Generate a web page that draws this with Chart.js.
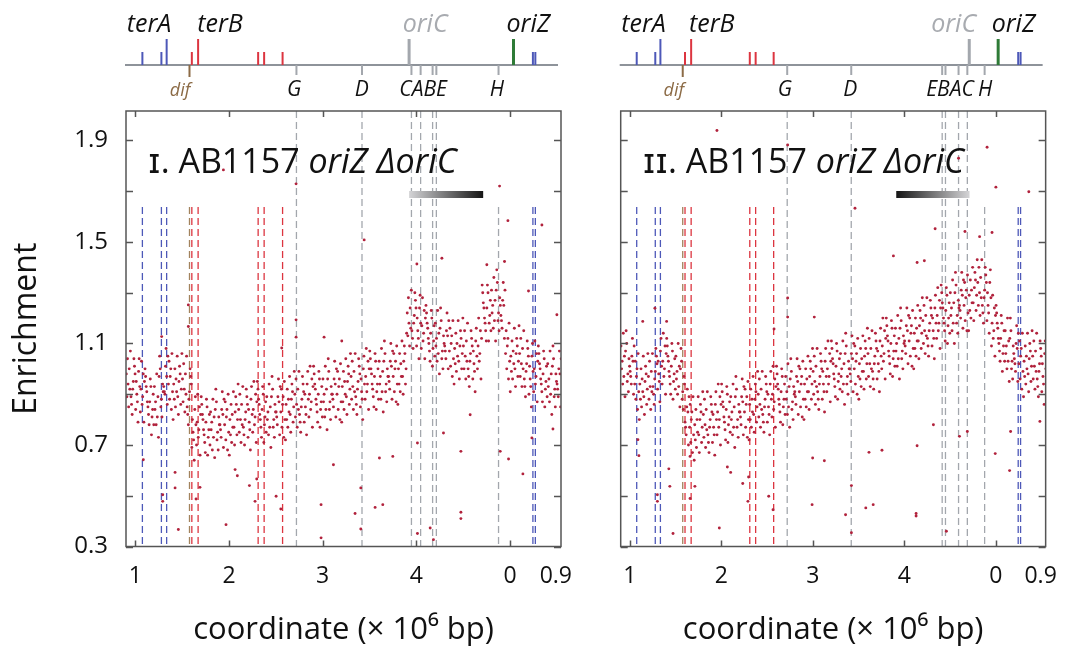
<!DOCTYPE html>
<html>
<head>
<meta charset="utf-8">
<script src="https://cdn.jsdelivr.net/npm/chart.js@4.4.1/dist/chart.umd.min.js"></script>
<style>
  html, body { margin: 0; padding: 0; background: #fff; }
  #wrap { position: relative; width: 1073px; height: 657px; }
  canvas { position: absolute; left: 0; top: 0; }
</style>
</head>
<body>
<div id="wrap">
  <canvas id="panelA" width="1073" height="657"></canvas>
  <canvas id="panelB" width="1073" height="657"></canvas>
</div>
<script>
// ---- axes ----
const xTickVals = [1, 2, 3, 4, 5, 5.49];
const xTickLabels = ['1', '2', '3', '4', '0', '0.9'];
const xTickMarks = [1, 2, 3, 4, 5];
const yTickVals = [0.3, 0.5, 0.7, 0.9, 1.1, 1.3, 1.5, 1.7, 1.9];

// ---- enrichment, 8 windows per 0.05 Mb bin ----
const binWidth = 0.05;
const binStarts = [0.90,0.95,1.00,1.05,1.10,1.15,1.20,1.25,1.30,1.35,1.40,1.45,1.50,1.55,1.60,1.65,1.70,1.75,1.80,1.85,
  1.90,1.95,2.00,2.05,2.10,2.15,2.20,2.25,2.30,2.35,2.40,2.45,2.50,2.55,2.60,2.65,2.70,2.75,2.80,2.85,
  2.90,2.95,3.00,3.05,3.10,3.15,3.20,3.25,3.30,3.35,3.40,3.45,3.50,3.55,3.60,3.65,3.70,3.75,3.80,3.85,
  3.90,3.95,4.00,4.05,4.10,4.15,4.20,4.25,4.30,4.35,4.40,4.45,4.50,4.55,4.60,4.65,4.70,4.75,4.80,4.85,
  4.90,4.95,5.00,5.05,5.10,5.15,5.20,5.25,5.30,5.35,5.40,5.45,5.50];
// order in which the 8 windows sit inside a bin (rows cycle through these)
const windowOrder = [[0,1,2,3,4,5,6,7],[3,6,1,4,7,2,5,0],[5,2,7,0,6,3,1,4]];

const enrichA = [
  [.98,.89,1.04,.94,.85,1.00,.92,1.07],[.92,1.01,.86,.95,.98,.82,1.04,.89],[.99,.90,.93,.84,1.04,.87,.95,.79],
  [.83,.92,1.03,.86,.89,.98,.79,.95],[.91,.82,.97,.87,.78,.93,.85,1.00],[.84,.93,.78,.87,.90,.74,.96,.81],
  [.93,.84,.87,.78,.98,.81,.89,.73],[.85,.94,1.05,.88,.91,1.00,.81,.97],[.97,.90,1.05,.93,.86,1.01,.91,1.08],
  [.94,1.03,.88,.97,1.00,.84,1.06,.91],[1.00,.91,.94,.85,1.05,.88,.96,.80],[.86,.95,1.06,.89,.92,1.01,.82,.98],
  [.96,.87,1.02,.92,.83,.98,.90,1.05],[.88,.97,.82,.91,.94,.78,1.00,.85],[.84,.75,.78,.69,.89,.72,.80,.64],
  [.70,.79,.90,.73,.76,.85,.66,.82],[.80,.71,.86,.76,.67,.82,.74,.89],[.76,.85,.70,.79,.82,.66,.88,.73],
  [.83,.76,.79,.68,.88,.73,.81,.65],[.72,.81,.92,.75,.78,.87,.68,.84],[.82,.73,.88,.78,.69,.84,.76,.91],
  [.78,.87,.72,.81,.84,.68,.90,.75],[.86,.77,.80,.71,.91,.74,.82,.66],[.74,.83,.94,.77,.80,.89,.70,.86],
  [.84,.75,.90,.80,.71,.86,.78,.93],[.80,.89,.74,.83,.86,.70,.92,.77],[.88,.79,.82,.73,.93,.76,.84,.68],
  [.75,.84,.95,.78,.81,.90,.71,.87],[.86,.77,.92,.82,.73,.88,.80,.95],[.81,.90,.75,.84,.87,.71,.93,.78],
  [.89,.80,.83,.74,.94,.77,.85,.69],[.77,.86,.97,.80,.83,.92,.73,.89],[.87,.78,.93,.83,.74,.89,.81,.96],
  [.83,.92,.77,.86,.89,.73,.95,.80],[.92,.83,.86,.77,.97,.80,.88,.72],[.79,.88,.99,.82,.85,.94,.75,.91],
  [.90,.81,.96,.86,.77,.92,.84,.99],[.85,.94,.79,.88,.91,.75,.97,.82],[.94,.85,.88,.79,.99,.82,.90,.74],
  [.81,.90,1.01,.84,.87,.96,.77,.93],[.92,.83,.98,.88,.79,.94,.86,1.01],[.87,.96,.81,.90,.93,.77,.99,.84],
  [.96,.87,.90,.81,1.01,.84,.92,.76],[.84,.93,1.04,.87,.90,.99,.80,.96],[.94,.85,1.00,.90,.81,.96,.88,1.03],
  [.90,.99,.84,.93,.96,.80,1.02,.87],[.99,.90,.93,.84,1.04,.87,.95,.79],[.86,.95,1.06,.89,.92,1.01,.82,.98],
  [.97,.88,1.03,.93,.84,.99,.91,1.06],[.92,1.01,.86,.95,.98,.82,1.04,.89],[1.00,.91,.94,.85,1.05,.88,.96,.80],
  [.88,.97,1.08,.91,.94,1.03,.84,1.00],[.98,.89,1.04,.94,.85,1.00,.92,1.07],[.94,1.03,.88,.97,1.00,.84,1.06,.91],
  [1.03,.94,.97,.88,1.08,.91,.99,.83],[.91,1.00,1.11,.94,.97,1.06,.87,1.03],[1.01,.92,1.07,.97,.88,1.03,.95,1.10],
  [.97,1.06,.91,1.00,1.03,.87,1.09,.94],[1.06,.97,1.00,.91,1.11,.94,1.02,.86],[.94,1.03,1.14,.97,1.00,1.09,.90,1.06],
  [1.22,1.13,1.28,1.18,1.09,1.24,1.16,1.31],[1.18,1.27,1.12,1.21,1.24,1.08,1.30,1.15],[1.24,1.15,1.18,1.09,1.29,1.12,1.20,1.04],
  [1.08,1.17,1.28,1.11,1.14,1.23,1.04,1.20],[1.16,1.07,1.22,1.12,1.03,1.18,1.10,1.25],[1.11,1.20,1.05,1.14,1.17,1.01,1.23,1.08],
  [1.18,1.09,1.12,1.03,1.23,1.06,1.14,.98],[1.04,1.13,1.24,1.07,1.10,1.19,1.00,1.16],[1.13,1.04,1.19,1.09,1.00,1.15,1.07,1.22],
  [1.07,1.16,1.01,1.10,1.13,.97,1.19,1.04],[1.14,1.05,1.08,.99,1.19,1.02,1.10,.94],[1.00,1.09,1.20,1.03,1.06,1.15,.96,1.12],
  [1.09,1.00,1.15,1.05,.96,1.11,1.03,1.18],[1.03,1.12,.97,1.06,1.09,.93,1.15,1.00],[1.11,1.02,1.05,.96,1.16,.99,1.07,.91],
  [1.00,1.09,1.20,1.03,1.06,1.15,.96,1.12],[1.24,1.15,1.30,1.20,1.11,1.26,1.18,1.33],[1.21,1.30,1.15,1.24,1.27,1.11,1.33,1.18],
  [1.31,1.22,1.25,1.16,1.36,1.19,1.27,1.11],[1.19,1.28,1.39,1.22,1.25,1.34,1.15,1.31],[1.25,1.16,1.31,1.21,1.12,1.27,1.19,1.34],
  [1.06,1.15,1.00,1.09,1.12,.96,1.18,1.03],[1.11,1.02,1.05,.96,1.16,.99,1.07,.91],[.97,1.06,1.17,1.00,1.03,1.12,.93,1.09],
  [1.06,.97,1.12,1.02,.93,1.08,1.00,1.15],[.99,1.08,.93,1.02,1.05,.89,1.11,.96],[1.05,.96,.99,.90,1.10,.93,1.01,.85],
  [.91,1.00,1.11,.94,.97,1.06,.87,1.03],[1.00,.91,1.06,.96,.87,1.02,.94,1.09],[.95,1.04,.89,.98,1.01,.85,1.07,.92],
  [1.02,.93,.96,.87,1.07,.90,.98,.82],[.89,.98,1.09,.92,.95,1.04,.85,1.01],[.98,.89,1.04,.94,.85,1.00,.92,1.07]
];

const enrichB = [
  [1.09,1.00,1.03,.94,1.14,.97,1.05,.89],[.95,1.04,1.15,.98,1.01,1.10,.91,1.07],[1.03,.94,1.09,.99,.90,1.05,.97,1.12],
  [.94,1.03,.88,.97,1.00,.84,1.06,.91],[1.00,.91,.94,.85,1.05,.88,.96,.80],[.86,.95,1.06,.89,.92,1.01,.82,.98],
  [.97,.88,1.03,.93,.84,.99,.91,1.06],[.96,1.05,.90,.99,1.02,.86,1.08,.93],[1.07,.98,1.01,.92,1.12,.95,1.03,.87],
  [.94,1.03,1.14,.97,1.00,1.09,.90,1.06],[1.03,.94,1.09,.99,.90,1.05,.97,1.12],[.98,1.07,.92,1.01,1.04,.88,1.10,.95],
  [1.05,.96,.99,.90,1.10,.93,1.01,.85],[.88,.97,1.08,.91,.94,1.03,.84,1.00],[.83,.74,.89,.79,.70,.85,.77,.92],
  [.77,.86,.71,.80,.83,.67,.89,.74],[.84,.75,.78,.69,.89,.72,.80,.64],[.71,.80,.91,.74,.77,.86,.67,.83],
  [.82,.73,.88,.78,.69,.84,.76,.91],[.77,.86,.71,.80,.83,.67,.89,.74],[.86,.77,.80,.71,.91,.74,.82,.66],
  [.74,.83,.94,.77,.80,.89,.70,.86],[.85,.76,.91,.81,.72,.87,.79,.94],[.81,.90,.75,.84,.87,.71,.93,.78],
  [.89,.80,.83,.74,.94,.77,.85,.69],[.77,.86,.97,.80,.83,.92,.73,.89],[.87,.78,.93,.83,.74,.89,.81,.96],
  [.83,.92,.77,.86,.89,.73,.95,.80],[.92,.83,.86,.77,.97,.80,.88,.72],[.79,.88,.99,.82,.85,.94,.75,.91],
  [.90,.81,.96,.86,.77,.92,.84,.99],[.85,.94,.79,.88,.91,.75,.97,.82],[.94,.85,.88,.79,.99,.82,.90,.74],
  [.81,.90,1.01,.84,.87,.96,.77,.93],[.92,.83,.98,.88,.79,.94,.86,1.01],[.88,.97,.82,.91,.94,.78,1.00,.85],
  [.97,.88,.91,.82,1.02,.85,.93,.77],[.84,.93,1.04,.87,.90,.99,.80,.96],[.95,.86,1.01,.91,.82,.97,.89,1.04],
  [.91,1.00,.85,.94,.97,.81,1.03,.88],[1.00,.91,.94,.85,1.05,.88,.96,.80],[.88,.97,1.08,.91,.94,1.03,.84,1.00],
  [.99,.90,1.05,.95,.86,1.01,.93,1.08],[.94,1.03,.88,.97,1.00,.84,1.06,.91],[1.03,.94,.97,.88,1.08,.91,.99,.83],
  [.91,1.00,1.11,.94,.97,1.06,.87,1.03],[1.02,.93,1.08,.98,.89,1.04,.96,1.11],[.98,1.07,.92,1.01,1.04,.88,1.10,.95],
  [1.06,.97,1.00,.91,1.11,.94,1.02,.86],[.94,1.03,1.14,.97,1.00,1.09,.90,1.06],[1.04,.95,1.10,1.00,.91,1.06,.98,1.13],
  [1.00,1.09,.94,1.03,1.06,.90,1.12,.97],[1.08,.99,1.02,.93,1.13,.96,1.04,.88],[.96,1.05,1.16,.99,1.02,1.11,.92,1.08],
  [1.06,.97,1.12,1.02,.93,1.08,1.00,1.15],[1.02,1.11,.96,1.05,1.08,.92,1.14,.99],[1.11,1.02,1.05,.96,1.16,.99,1.07,.91],
  [1.00,1.09,1.20,1.03,1.06,1.15,.96,1.12],[1.11,1.02,1.17,1.07,.98,1.13,1.05,1.20],[1.07,1.16,1.01,1.10,1.13,.97,1.19,1.04],
  [1.16,1.07,1.10,1.01,1.21,1.04,1.12,.96],[1.04,1.13,1.24,1.07,1.10,1.19,1.00,1.16],[1.15,1.06,1.21,1.11,1.02,1.17,1.09,1.24],
  [1.11,1.20,1.05,1.14,1.17,1.01,1.23,1.08],[1.20,1.11,1.14,1.05,1.25,1.08,1.16,1.00],[1.08,1.17,1.28,1.11,1.14,1.23,1.04,1.20],
  [1.19,1.10,1.25,1.15,1.06,1.21,1.13,1.28],[1.15,1.24,1.09,1.18,1.21,1.05,1.27,1.12],[1.24,1.15,1.18,1.09,1.29,1.12,1.20,1.04],
  [1.12,1.21,1.32,1.15,1.18,1.27,1.08,1.24],[1.24,1.15,1.30,1.20,1.11,1.26,1.18,1.33],[1.20,1.29,1.14,1.23,1.26,1.10,1.32,1.17],
  [1.30,1.21,1.24,1.15,1.35,1.18,1.26,1.10],[1.18,1.27,1.38,1.21,1.24,1.33,1.14,1.30],[1.29,1.20,1.35,1.25,1.16,1.31,1.23,1.38],
  [1.25,1.34,1.19,1.28,1.31,1.15,1.37,1.22],[1.35,1.26,1.29,1.20,1.40,1.23,1.31,1.15],[1.23,1.32,1.43,1.26,1.29,1.38,1.19,1.35],
  [1.34,1.25,1.40,1.30,1.21,1.36,1.28,1.43],[1.28,1.37,1.22,1.31,1.34,1.18,1.40,1.25],[1.34,1.25,1.28,1.19,1.39,1.22,1.30,1.14],
  [1.09,1.18,1.29,1.12,1.15,1.24,1.05,1.21],[1.16,1.07,1.22,1.12,1.03,1.18,1.10,1.25],[1.09,1.18,1.03,1.12,1.15,.99,1.21,1.06],
  [1.15,1.06,1.09,1.00,1.20,1.03,1.11,.95],[1.00,1.09,1.20,1.03,1.06,1.15,.96,1.12],[1.08,.99,1.14,1.04,.95,1.10,1.02,1.17],
  [1.02,1.11,.96,1.05,1.08,.92,1.14,.99],[1.09,1.00,1.03,.94,1.14,.97,1.05,.89],[.95,1.04,1.15,.98,1.01,1.10,.91,1.07],
  [1.05,.96,1.11,1.01,.92,1.07,.99,1.14],[.99,1.08,.93,1.02,1.05,.89,1.11,.96],[1.06,.97,1.00,.91,1.11,.94,1.02,.86]
];

// scattered windows away from the main cloud
const outAx = [1.566,1.566,1.281,1.085,1.292,1.292,1.424,1.424,1.459,1.648,1.690,1.968,2.065,2.089,2.218,2.296,2.278,2.503,2.553,2.563,
  2.716,2.716,3.015,2.983,2.983,3.204,3.115,3.443,3.407,3.407,3.346,3.560,3.642,3.606,3.749,4.006,4.273,4.012,4.012,4.148,
  4.183,4.290,4.476,4.476,4.476,4.575,4.753,4.942,4.896,4.985,5.138,5.198,5.501,5.459,5.234,4.889,4.978,5.341,1.940,2.716];
const outAy = [1.252,1.167,1.127,0.642,0.504,0.478,0.592,0.531,0.367,0.487,0.533,0.386,0.603,0.579,0.540,0.566,0.478,0.498,0.448,1.082,
  1.193,1.125,1.125,0.465,0.334,1.110,0.622,1.508,0.531,0.369,0.430,0.454,0.465,0.649,0.655,1.413,1.436,0.708,0.351,0.373,
  0.327,0.747,0.675,0.435,0.410,0.819,1.410,1.423,0.675,0.645,0.586,1.307,1.213,0.763,0.728,1.720,1.584,1.567,1.784,1.729];
const outBx = [1.141,1.274,1.402,1.088,1.099,1.301,1.301,1.426,1.437,1.472,1.658,1.658,1.711,1.978,2.066,2.102,2.234,2.298,2.291,2.518,
  2.565,2.576,2.725,2.725,3.016,2.992,3.126,2.998,3.881,4.140,4.219,3.422,3.422,3.358,3.579,3.660,3.614,3.756,4.140,4.129,
  4.129,4.318,4.460,4.603,4.689,4.994,5.151,5.162,5.482,4.663,4.823,4.959,1.952,2.725,3.461,4.905,4.593,5.001,5.361,4.337];
const outBy = [1.187,1.239,1.187,0.721,0.658,0.504,0.478,0.606,0.537,0.351,0.655,0.489,0.537,0.373,0.613,0.592,0.548,0.574,0.478,0.498,
  0.445,1.157,1.204,1.279,1.204,0.465,0.638,0.649,1.445,1.419,1.426,0.540,0.354,0.425,0.452,0.465,0.671,0.679,0.697,0.430,
  0.420,0.780,0.360,0.734,0.753,0.666,0.599,0.753,0.793,1.541,1.521,1.537,1.939,1.882,1.633,1.873,1.830,1.716,1.698,1.552];

// ---- genome features (Mb, same axis units) ----
const terBlue = [1.075, 1.278, 1.334, 5.245, 5.271];
const terRed = [1.603, 1.670, 2.311, 2.375, 2.572];
const terTall = [1.334, 1.670];        // terA, terB
const difSite = [1.578];
const commonSites = [2.72, 3.42];       // G, D
const hSite = [4.878];                  // H
const sitesA = [3.948, 4.046, 4.174, 4.214];   // C A B E
const sitesB = [4.414, 4.450, 4.593, 4.689];   // E B A C
const oriCA = 3.923, oriCB = 4.710;
const oriZA = 5.038, oriZB = 5.026;
const barA = [3.923, 4.714], barB = [3.912, 4.713];
const barLevel = 1.687;
const terLineTop = 1.638;

const topLabels = ['terA', 'terB', 'oriC', 'oriZ'];
const topLabelAtA = [1.146, 1.904, 4.094, 5.195];
const topLabelAtB = [1.149, 1.896, 4.539, 5.193];
const lowLabelsA = ['dif', 'G', 'D', 'CABE', 'H'];
const lowLabelsB = ['dif', 'G', 'D', 'EBAC', 'H'];
const lowLabelAtA = [1.477, 2.695, 3.418, 4.073, 4.860];
const lowLabelAtB = [1.480, 2.696, 3.408, 4.500, 4.884];

const FONT = '"Open Sans", "DejaVu Sans", sans-serif';
const C_DOT = '#b1223c', C_BLUE = '#4d58b8', C_RED = '#dc3540', C_BROWN = '#8c6b46',
      C_GRAY = '#a3a7ad', C_GREEN = '#2f7b37', C_AXIS = '#555';

function cloud(rows, ox, oy) {
  const pts = [];
  rows.forEach((row, i) => {
    const order = windowOrder[i % windowOrder.length];
    row.forEach((v, j) => {
      pts.push({ x: binStarts[i] + (order[j] + 0.5) * binWidth / row.length, y: v });
    });
  });
  ox.forEach((u, k) => pts.push({ x: u, y: oy[k] }));
  return pts;
}

function vlines(list, top) {
  const d = [];
  list.forEach(u => d.push({ x: u, y: top }, { x: u, y: 0.3 }, { x: u, y: null }));
  return d;
}

function dashed(label, data, color) {
  return { type: 'line', label, data, borderColor: color, borderWidth: 1.3,
    borderDash: [7, 4], pointRadius: 0, spanGaps: false, fill: false };
}

function makeDecor(p) {
  return {
    id: 'decor',
    afterDraw(chart) {
      const { ctx, chartArea: ca, scales: { x, y } } = chart;
      ctx.save();
      // frame and inward ticks
      ctx.strokeStyle = C_AXIS;
      ctx.lineWidth = 1.5;
      ctx.strokeRect(ca.left, ca.top, ca.right - ca.left, ca.bottom - ca.top);
      ctx.beginPath();
      xTickMarks.forEach(v => {
        const px = Math.round(x.getPixelForValue(v)) + 0.5;
        ctx.moveTo(px, ca.bottom); ctx.lineTo(px, ca.bottom - 6);
        ctx.moveTo(px, ca.top); ctx.lineTo(px, ca.top + 6);
      });
      yTickVals.forEach(v => {
        const py = Math.round(y.getPixelForValue(v)) + 0.5;
        ctx.moveTo(ca.left, py); ctx.lineTo(ca.left + 7, py);
        ctx.moveTo(ca.right, py); ctx.lineTo(ca.right - 7, py);
      });
      ctx.stroke();

      // gradient bar
      const bx0 = x.getPixelForValue(p.bar[0]), bx1 = x.getPixelForValue(p.bar[1]);
      const by = y.getPixelForValue(barLevel);
      const g = ctx.createLinearGradient(bx0, 0, bx1, 0);
      g.addColorStop(0, p.barFromDark ? '#151515' : '#d4d4d6');
      g.addColorStop(1, p.barFromDark ? '#d4d4d6' : '#151515');
      ctx.fillStyle = g;
      ctx.fillRect(bx0, by - 3.5, bx1 - bx0, 7);

      // panel title
      const tx = ca.left + 22, ty = ca.top + 62;
      ctx.fillStyle = '#111';
      ctx.textBaseline = 'alphabetic';
      ctx.textAlign = 'left';
      ctx.font = '34px ' + FONT;
      const head = p.roman + ' AB1157 ';
      ctx.fillText(head, tx, ty);
      const w = ctx.measureText(head).width;
      ctx.font = 'italic 34px ' + FONT;
      ctx.fillText('oriZ \u0394oriC', tx + w, ty);

      // genome map above the panel
      const base = ca.top - 46;
      ctx.lineCap = 'butt';
      ctx.strokeStyle = '#8e939a';
      ctx.lineWidth = 2;
      ctx.beginPath();
      ctx.moveTo(ca.left - 1, base); ctx.lineTo(ca.right - 3, base);
      ctx.stroke();
      const tick = (u, color, h, wdt) => {
        const px = x.getPixelForValue(u);
        ctx.strokeStyle = color; ctx.lineWidth = wdt;
        ctx.beginPath(); ctx.moveTo(px, base); ctx.lineTo(px, base - h); ctx.stroke();
      };
      terBlue.forEach(u => tick(u, C_BLUE, terTall.includes(u) ? 26 : 13, 2));
      terRed.forEach(u => tick(u, C_RED, terTall.includes(u) ? 26 : 13, 2));
      tick(p.oriC, C_GRAY, 26, 3);
      tick(p.oriZ, C_GREEN, 26, 3);
      difSite.forEach(u => tick(u, C_BROWN, -12, 2));
      commonSites.concat(p.sites, hSite).forEach(u => tick(u, C_GRAY, -10, 2));

      ctx.textAlign = 'center';
      ctx.font = 'italic 500 25px ' + FONT;
      topLabels.forEach((t, i) => {
        ctx.fillStyle = t === 'oriC' ? '#a8abb0' : '#111';
        ctx.fillText(t, x.getPixelForValue(p.topAt[i]), ca.top - 79);
      });
      p.lowLabels.forEach((t, i) => {
        ctx.fillStyle = t === 'dif' ? C_BROWN : '#111';
        ctx.font = (t === 'dif' ? 'italic 18px ' : 'italic 21px ') + FONT;
        ctx.fillText(t, x.getPixelForValue(p.lowAt[i]), ca.top - 15);
      });
      ctx.restore();
    }
  };
}

function makePanel(id, p) {
  const gray = commonSites.concat(p.sites);
  new Chart(document.getElementById(id), {
    type: 'scatter',
    data: {
      datasets: [
        { label: 'enrichment', data: cloud(p.rows, p.ox, p.oy), backgroundColor: C_DOT,
          borderWidth: 0, pointRadius: 1.45 },
        dashed('ter blue', vlines(terBlue, terLineTop), C_BLUE),
        dashed('ter red', vlines(terRed, terLineTop), C_RED),
        dashed('dif', vlines(difSite, terLineTop), '#a2835d'),
        dashed('H', vlines(hSite, terLineTop), C_GRAY),
        dashed('sites', vlines(gray, 2.016), C_GRAY)
      ]
    },
    options: {
      responsive: false,
      animation: false,
      events: [],
      layout: { padding: { left: p.padLeft, right: p.padRight, top: 111, bottom: 0 } },
      plugins: { legend: { display: false }, tooltip: { enabled: false } },
      scales: {
        x: {
          type: 'linear', min: 0.9, max: 5.545,
          grid: { display: false, drawTicks: false },
          border: { display: false },
          afterBuildTicks: s => { s.ticks = xTickVals.map(v => ({ value: v })); },
          afterFit: s => { s.height = 110.5; },
          ticks: {
            autoSkip: false, maxRotation: 0, padding: 16, color: '#111',
            font: { family: FONT, size: 23 },
            callback: (v, i) => xTickLabels[i]
          },
          title: { display: true, text: 'coordinate (\u00d7 10\u2076 bp)', color: '#111',
            font: { family: FONT, size: 31 }, padding: { top: 0, bottom: 8 } }
        },
        y: {
          type: 'linear', min: 0.3, max: 2.016,
          grid: { display: false, drawTicks: false },
          border: { display: false },
          afterBuildTicks: s => { s.ticks = yTickVals.map(v => ({ value: v })); },
          afterFit: s => { s.width = p.yWidth; },
          ticks: {
            display: p.showY, padding: 18, color: '#111',
            font: { family: FONT, size: 24 },
            callback: (v, i) => (i % 2 === 0 ? v.toFixed(1) : '')
          },
          title: { display: p.showY, text: 'Enrichment', color: '#111',
            font: { family: FONT, size: 32 }, padding: { top: 8, bottom: 0 } }
        }
      }
    },
    plugins: [makeDecor(p)]
  });
}

makePanel('panelA', {
  rows: enrichA, ox: outAx, oy: outAy, sites: sitesA, oriC: oriCA, oriZ: oriZA,
  bar: barA, barFromDark: false, roman: '\u026a.',
  topAt: topLabelAtA, lowLabels: lowLabelsA, lowAt: lowLabelAtA,
  padLeft: 0, padRight: 512, yWidth: 126, showY: true
});
makePanel('panelB', {
  rows: enrichB, ox: outBx, oy: outBy, sites: sitesB, oriC: oriCB, oriZ: oriZB,
  bar: barB, barFromDark: true, roman: '\u026a\u026a.',
  topAt: topLabelAtB, lowLabels: lowLabelsB, lowAt: lowLabelAtB,
  padLeft: 566, padRight: 18, yWidth: 54.7, showY: false
});
</script>
</body>
</html>
